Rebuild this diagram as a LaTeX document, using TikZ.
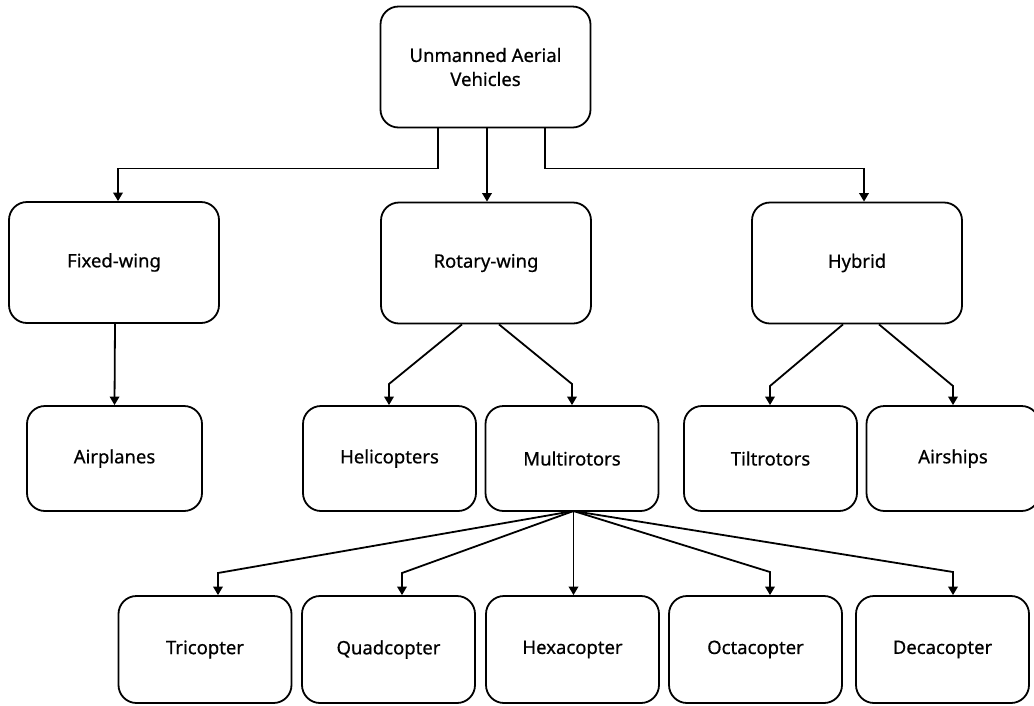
\documentclass[tikz,border=0pt]{standalone}
\usepackage{fontspec}
\setmainfont{Noto Sans}
\newfontfamily\labelfont{Noto Sans}[FakeBold=0.6]
\usetikzlibrary{arrows.meta,calc}
\begin{document}
\begin{tikzpicture}[x=1pt,y=-1pt,
  box/.style={draw,line width=1.8pt,rounded corners=18pt,align=center,
    inner sep=0pt,font=\labelfont\fontsize{18.5pt}{24pt}\selectfont},
  big/.style={box,minimum width=210pt,minimum height=121pt},
  small/.style={box,minimum width=173pt,minimum height=105pt},
  low/.style={box,minimum width=173pt,minimum height=107pt},
  conn/.style={line width=1.8pt,-{Triangle[width=9.5pt,length=8.5pt]}}]
\useasboundingbox (0,0) rectangle (1034,705);
% category tree
\node[big] (uav) at (485.5,67) {Unmanned Aerial\\Vehicles};
\node[big] (fw) at (114,262.5) {Fixed-wing};
\node[big] (rw) at (486,263) {Rotary-wing};
\node[big] (hy) at (857,263) {Hybrid};
\node[small,minimum width=175pt] (ap) at (114.5,458.5) {Airplanes};
\node[small] (he) at (389.5,458.5) {Helicopters};
\node[small] (mr) at (572,458.5) {Multirotors};
\node[small] (tr) at (770.5,458.5) {Tiltrotors};
\node[small] (as) at (953,458.5) {Airships};
\node[low] (tri) at (205,649.5) {Tricopter};
\node[low] (qua) at (388.5,649.5) {Quadcopter};
\node[low] (hex) at (572.5,649.5) {Hexacopter};
\node[low] (oct) at (755.5,649.5) {Octacopter};
\node[low] (dec) at (942.5,649.5) {Decacopter};
% bend points
\coordinate (bhe) at (389,384);
\coordinate (bmr) at (572,384);
\coordinate (btr) at (770,386);
\coordinate (bas) at (953,386);
\coordinate (apex) at (573.5,511);
\coordinate (btri) at (218,573);
\coordinate (bqua) at (402,573);
\coordinate (boct) at (770,572);
\coordinate (bdec) at (953,572);
% top level connectors
\draw[conn] ([xshift=-47.5pt]uav.south) -- ++(0,40) -| ([xshift=4pt]fw.north);
\draw[conn] ([xshift=1.5pt]uav.south) -- ([xshift=1pt]rw.north);
\draw[conn] ([xshift=59.5pt]uav.south) -- ++(0,40) -| ([xshift=7pt]hy.north);
\draw[conn] ([xshift=1pt]fw.south) -- (ap.north);
% second level connectors
\draw[conn] ([xshift=-24pt]rw.south) -- (bhe) -- (bhe |- he.north);
\draw[conn] ([xshift=13pt]rw.south) -- (bmr) -- (bmr |- mr.north);
\draw[conn] ([xshift=-14pt]hy.south) -- (btr) -- (btr |- tr.north);
\draw[conn] ([xshift=22pt]hy.south) -- (bas) -- (bas |- as.north);
% multirotor variants
\draw[conn] (apex) -- (btri) -- (btri |- tri.north);
\draw[conn] (apex) -- (bqua) -- (bqua |- qua.north);
\draw[conn] (apex) -- (apex |- hex.north);
\draw[conn] (apex) -- (boct) -- (boct |- oct.north);
\draw[conn] (apex) -- (bdec) -- (bdec |- dec.north);
\end{tikzpicture}
\end{document}
